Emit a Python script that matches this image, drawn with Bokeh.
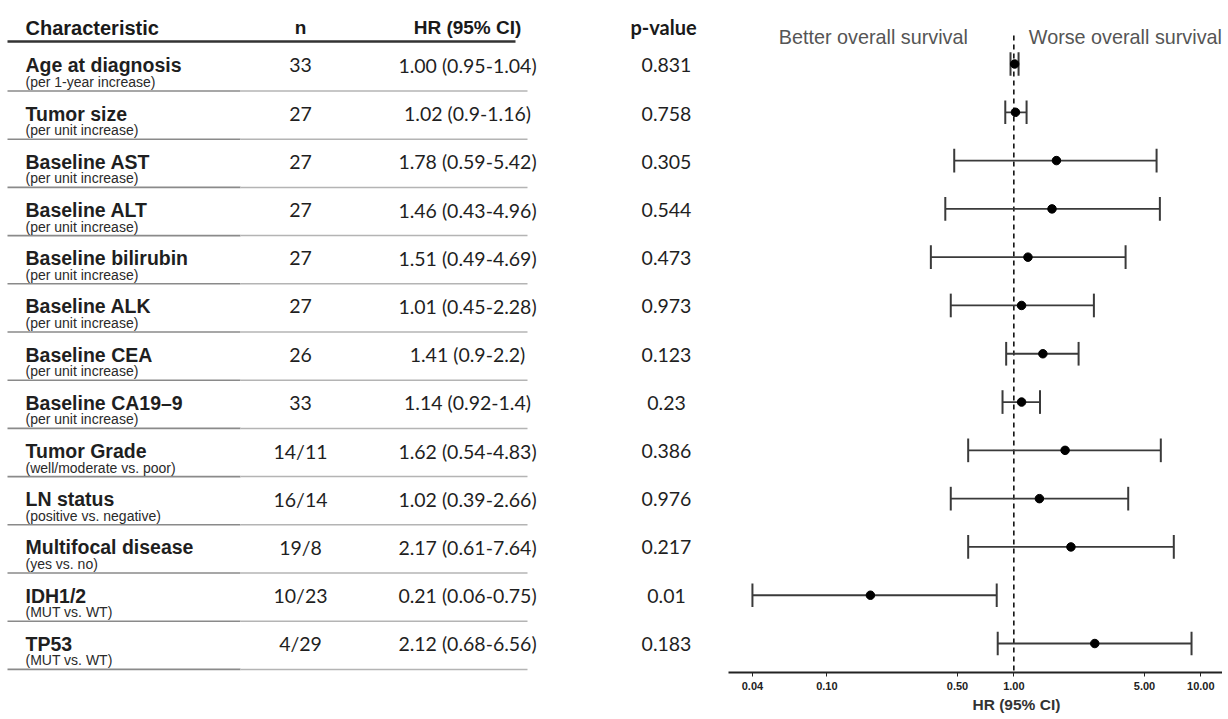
from bokeh.plotting import figure
from bokeh.layouts import row
from bokeh.models import Range1d, FixedTicker, NumeralTickFormatter, Label, ColumnDataSource, Title
from bokeh.embed import file_html
from bokeh.resources import INLINE
from bokeh.core.properties import value

# ---------------- data ----------------
characteristics = ["Age at diagnosis", "Tumor size", "Baseline AST", "Baseline ALT",
                   "Baseline bilirubin", "Baseline ALK", "Baseline CEA", "Baseline CA19\u20139",
                   "Tumor Grade", "LN status", "Multifocal disease", "IDH1/2", "TP53"]
subtitles = ["(per 1-year increase)", "(per unit increase)", "(per unit increase)",
             "(per unit increase)", "(per unit increase)", "(per unit increase)",
             "(per unit increase)", "(per unit increase)", "(well/moderate vs. poor)",
             "(positive vs. negative)", "(yes vs. no)", "(MUT vs. WT)", "(MUT vs. WT)"]
n_labels = ["33", "27", "27", "27", "27", "27", "26", "33", "14/11", "16/14", "19/8", "10/23", "4/29"]
hr_labels = ["1.00 (0.95-1.04)", "1.02 (0.9-1.16)", "1.78 (0.59-5.42)", "1.46 (0.43-4.96)",
             "1.51 (0.49-4.69)", "1.01 (0.45-2.28)", "1.41 (0.9-2.2)", "1.14 (0.92-1.4)",
             "1.62 (0.54-4.83)", "1.02 (0.39-2.66)", "2.17 (0.61-7.64)", "0.21 (0.06-0.75)",
             "2.12 (0.68-6.56)"]
p_labels = ["0.831", "0.758", "0.305", "0.544", "0.473", "0.973", "0.123", "0.23",
            "0.386", "0.976", "0.217", "0.01", "0.183"]

# values as drawn in the forest plot
hr_est = [1.01, 1.02, 1.69, 1.60, 1.19, 1.10, 1.43, 1.10, 1.88, 1.37, 2.02, 0.171, 2.71]
hr_lo = [0.96, 0.90, 0.48, 0.43, 0.36, 0.46, 0.91, 0.87, 0.57, 0.46, 0.57, 0.040, 0.82]
hr_hi = [1.06, 1.17, 5.80, 6.04, 3.96, 2.68, 2.22, 1.38, 6.11, 4.09, 7.17, 0.81, 8.92]

tick_values = [0.04, 0.10, 0.50, 1.00, 5.00, 10.00]
tick_labels = ["0.04", "0.10", "0.50", "1.00", "5.00", "10.00"]

headers = ["Characteristic", "n", "HR (95% CI)", "p-value"]
x_title = "HR (95% CI)"

SANS = "Liberation Sans"
NUM = "Lato"
nrows = len(characteristics)

FRAME_H = 672

# ---------------- left: table ----------------
LW = 728
left = figure(frame_width=LW, frame_height=FRAME_H, x_range=Range1d(0, LW), y_range=Range1d(FRAME_H, 0),
              output_backend="svg", toolbar_location=None, min_border=0)
left.axis.visible = False
left.grid.visible = False
left.outline_line_color = None

row_h = 48.2
first_line = 90.5
lines_y = [first_line + row_h * i for i in range(nrows)]
centers = [ly - row_h / 2 for ly in lines_y]

x_name, x_n, x_hr, x_p = 25, 300, 467, 666

# header
left.text(x=[x_name], y=[27], text=[headers[0]], text_font=value(SANS), text_font_style="bold",
          text_font_size="20px", text_color="#1a1a1a", text_baseline="alphabetic", text_align="left")
left.text(x=[x_n, x_hr], y=[27, 27], text=headers[1:3], text_font=value(SANS), text_font_style="bold",
          text_font_size="19px", text_color="#1a1a1a", text_baseline="alphabetic", text_align="center")
left.text(x=[x_p - 3], y=[26], text=[headers[3]], text_font=value(NUM), text_font_style="bold",
          text_font_size="20px", text_color="#1a1a1a", text_baseline="alphabetic", text_align="center")
left.segment(x0=[7], y0=[41], x1=[515], y1=[41], line_color="#333333", line_width=2.5)

# row separators (darker under the label column, lighter under the values)
left.segment(x0=[7] * nrows, y0=lines_y, x1=[240] * nrows, y1=lines_y, line_color="#8a8a8a", line_width=1.6)
left.segment(x0=[240] * nrows, y0=lines_y, x1=[527] * nrows, y1=lines_y, line_color="#b4b4b4", line_width=1.5)

src = ColumnDataSource(dict(
    name_y=[c - 1.5 for c in centers], sub_y=[c + 15 for c in centers], num_y=[c - 1.5 for c in centers],
    name=characteristics, sub=subtitles, n=n_labels, hr=hr_labels, p=p_labels,
    xn=[x_name] * nrows, xnn=[x_n] * nrows, xhr=[x_hr] * nrows, xp=[x_p] * nrows))

left.text(x="xn", y="name_y", text="name", source=src, text_font=value(SANS), text_font_style="bold",
          text_font_size="19.5px", text_color="#1f1f1f", text_baseline="alphabetic", text_align="left")
left.text(x="xn", y="sub_y", text="sub", source=src, text_font=value(SANS),
          text_font_size="14px", text_color="#2a2a2a", text_baseline="alphabetic", text_align="left")
for col, xcol in (("n", "xnn"), ("hr", "xhr"), ("p", "xp")):
    left.text(x=xcol, y="num_y", text=col, source=src, text_font=value(NUM),
              text_font_size="19.5px", text_color="#1f1f1f", text_baseline="middle", text_align="center")

# ---------------- right: forest plot ----------------
FW = 494
right = figure(frame_width=FW, frame_height=FRAME_H, x_axis_type="log",
               x_range=Range1d(0.02979, 13.06), y_range=Range1d(12.60, -1.3147),
               output_backend="svg", toolbar_location=None,
               min_border_left=0, min_border_right=0, min_border_top=0, min_border_bottom=0)
right.yaxis.visible = False
right.grid.visible = False
right.outline_line_color = None

ys = list(range(nrows))
fsrc = ColumnDataSource(dict(y=ys, est=hr_est, lo=hr_lo, hi=hr_hi,
                             ylo=[y - 0.245 for y in ys], yhi=[y + 0.245 for y in ys]))

# reference line at HR = 1
right.segment(x0=[1.0], y0=[-0.59], x1=[1.0], y1=[12.60], line_color="#111111",
              line_width=1.6, line_dash="5 4")

right.segment(x0="lo", y0="y", x1="hi", y1="y", source=fsrc, line_color="#3a3a3a", line_width=1.8)
right.segment(x0="lo", y0="ylo", x1="lo", y1="yhi", source=fsrc, line_color="#3a3a3a", line_width=2)
right.segment(x0="hi", y0="ylo", x1="hi", y1="yhi", source=fsrc, line_color="#3a3a3a", line_width=2)
right.scatter(x="est", y="y", source=fsrc, size=8.5, color="black")

right.add_layout(Label(x=1.0, y=-0.55, x_offset=-46, text="Better overall survival", text_align="right",
                       text_baseline="middle", text_font=SANS, text_font_size="19.8px", text_color="#555555"))
right.add_layout(Label(x=1.0, y=-0.55, x_offset=15, text="Worse overall survival", text_align="left",
                       text_baseline="middle", text_font=SANS, text_font_size="19.8px", text_color="#555555"))

ax = right.xaxis[0]
ax.ticker = FixedTicker(ticks=tick_values)
ax.formatter = NumeralTickFormatter(format="0.00")
ax.major_label_overrides = {v: l for v, l in zip(tick_values, tick_labels)}
ax.minor_tick_line_color = None
ax.major_tick_in = 0
ax.major_tick_out = 4
ax.major_tick_line_color = "#222222"
ax.axis_line_color = "#222222"
ax.axis_line_width = 2
ax.major_label_text_font = SANS
ax.major_label_text_font_style = "bold"
ax.major_label_text_font_size = "11px"
ax.major_label_text_color = "#222222"
ax.major_label_standoff = 5

# x-axis title, placed under HR = 1 as in the original
right.add_layout(Title(text=x_title, align="left", offset=244, standoff=3,
                       text_font=SANS, text_font_style="bold", text_font_size="15.5px",
                       text_color="#333333"), "below")

layout = row(left, right, spacing=0)
open("out.html", "w").write(file_html(layout, INLINE))
